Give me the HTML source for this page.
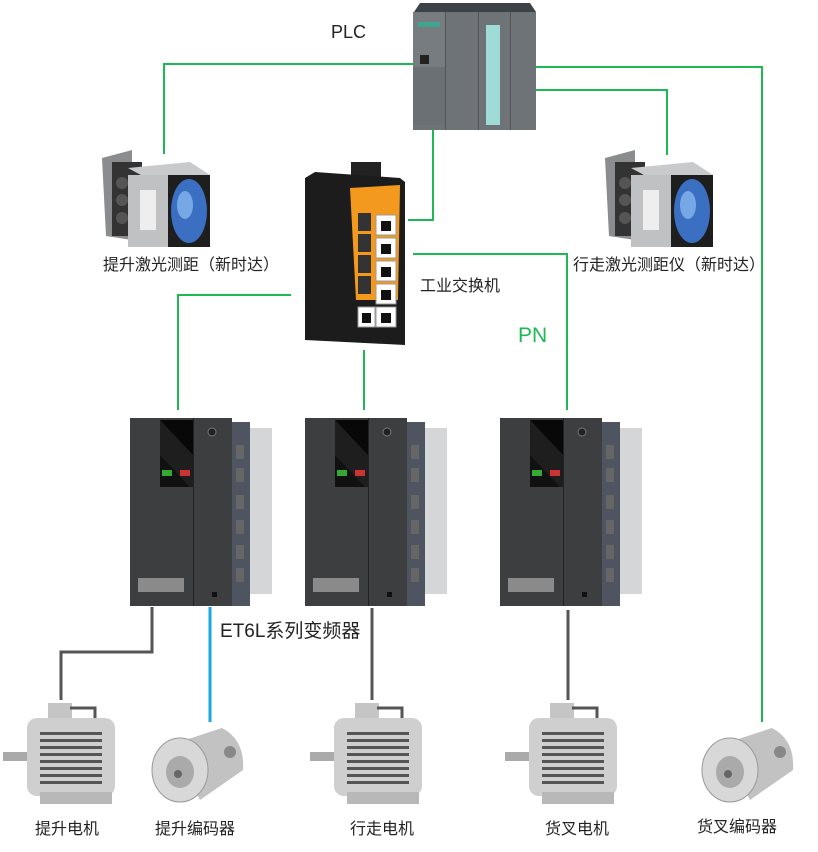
<!DOCTYPE html>
<html><head><meta charset="utf-8"><style>
html,body{margin:0;padding:0;background:#fff}
body{width:818px;height:852px;position:relative;overflow:hidden;font-family:"Liberation Sans","Noto Sans CJK SC",sans-serif;color:#222}
.a{position:absolute}
.t{position:absolute;font-size:16px;white-space:nowrap;line-height:1}
</style></head><body>
<svg class="a" style="left:0;top:0" width="818" height="852">
<g fill="none" stroke="#1db954" stroke-width="2">
<polyline points="415,64 164,64 164,154"/>
<polyline points="536,67 762,67 762,722"/>
<polyline points="536,90 667,90 667,155"/>
<polyline points="433,130 433,220 408,220"/>
<polyline points="413,254 567,254 567,410"/>
<polyline points="291,295 178,295 178,410"/>
<line x1="364" y1="350" x2="364" y2="410"/>
</g>
<g fill="none" stroke="#555" stroke-width="3">
<polyline points="152,607 152,652 61,652 61,700"/>
<line x1="372" y1="608" x2="372" y2="700"/>
<line x1="568" y1="610" x2="568" y2="700"/>
</g>
<line x1="210" y1="607" x2="210" y2="722" stroke="#1aa7e0" stroke-width="3"/>

<!-- PLC -->
<g>
<polygon points="420,3 530,3 536,12 414,12" fill="#3d4246"/>
<rect x="413" y="12" width="123" height="118" fill="#6d7377"/>
<rect x="413" y="12" width="32" height="55" fill="#767c80"/>
<rect x="413" y="67" width="32" height="58" fill="#6a7074"/>
<rect x="418" y="22" width="22" height="5" fill="#3fa58f"/>
<rect x="420" y="55" width="9" height="9" fill="#222"/>
<rect x="445" y="12" width="1" height="118" fill="#555"/>
<rect x="478" y="12" width="1" height="118" fill="#555"/>
<rect x="486" y="25" width="14" height="100" fill="#9fdcd8"/>
<rect x="510" y="12" width="1" height="118" fill="#555"/>
</g>

<!-- switch -->
<g>
<rect x="351" y="162" width="30" height="18" fill="#222"/>
<polygon points="305,178 315,172 400,178 405,182 405,345 305,340" fill="#1c1c1c"/>
<polygon points="350,188 400,185 398,300 356,300" fill="#f39a1e"/>
<g fill="#333"><rect x="358" y="213" width="13" height="18"/><rect x="358" y="234" width="13" height="18"/><rect x="358" y="255" width="13" height="18"/><rect x="358" y="276" width="13" height="18"/></g>
<g fill="#fff" stroke="#999"><rect x="376" y="215" width="20" height="20"/><rect x="376" y="238" width="20" height="20"/><rect x="376" y="261" width="20" height="20"/><rect x="376" y="284" width="20" height="20"/><rect x="376" y="307" width="20" height="20"/><rect x="358" y="307" width="17" height="20"/></g>
<g fill="#111"><rect x="381" y="221" width="10" height="10"/><rect x="381" y="244" width="10" height="10"/><rect x="381" y="267" width="10" height="10"/><rect x="381" y="290" width="10" height="10"/><rect x="381" y="313" width="10" height="10"/><rect x="362" y="313" width="9" height="10"/></g>
</g>

<!-- lasers -->
<g id="laser">
<polygon points="102,158 132,150 132,240 106,236" fill="#8a8c8e"/>
<rect x="112" y="162" width="30" height="74" fill="#333"/>
<circle cx="122" cy="183" r="6" fill="#555"/><circle cx="122" cy="200" r="6" fill="#555"/><circle cx="122" cy="218" r="6" fill="#555"/>
<polygon points="128,168 190,162 210,175 150,180" fill="#c8cacc"/>
<rect x="128" y="175" width="40" height="72" fill="#bfc1c3"/>
<rect x="140" y="190" width="16" height="40" fill="#eee"/>
<rect x="168" y="175" width="42" height="72" fill="#1e1e1e"/>
<ellipse cx="189" cy="211" rx="18" ry="32" fill="#3b6fc2"/>
<ellipse cx="185" cy="205" rx="8" ry="14" fill="#77a8e6"/>
</g>
<use href="#laser" x="503" y="0"/>

<!-- motors -->
<g id="motor">
<rect x="3" y="752" width="24" height="9" fill="#aaa"/>
<rect x="48" y="703" width="24" height="16" fill="#c5c5c5"/>
<path d="M70 708 h25 v12" stroke="#555" stroke-width="3" fill="none"/>
<rect x="27" y="718" width="88" height="78" rx="10" fill="#cfcfcf"/>
<g fill="#555"><rect x="40" y="732" width="62" height="3"/><rect x="40" y="739" width="62" height="3"/><rect x="40" y="746" width="62" height="3"/><rect x="40" y="753" width="62" height="3"/><rect x="40" y="760" width="62" height="3"/><rect x="40" y="767" width="62" height="3"/><rect x="40" y="774" width="62" height="3"/><rect x="40" y="781" width="62" height="3"/></g>
<rect x="40" y="792" width="72" height="12" fill="#b8b8b8"/>
</g>
<use href="#motor" x="307" y="0"/>
<use href="#motor" x="502" y="0"/>

<!-- encoders -->
<g id="enc">
<path d="M170 745 L222 728 Q245 740 243 770 L200 800 Z" fill="#c2c2c2"/>
<ellipse cx="180" cy="770" rx="28" ry="32" fill="#d8d8d8" stroke="#999"/>
<ellipse cx="180" cy="772" rx="14" ry="16" fill="#aaa"/>
<circle cx="178" cy="774" r="4" fill="#666"/>
<circle cx="230" cy="752" r="6" fill="#888"/>
</g>
<use href="#enc" x="550" y="0"/>

<!-- drives -->
<g id="drv">
<rect x="130" y="418" width="102" height="188" fill="#3d3e40"/>
<rect x="193" y="418" width="1" height="188" fill="#222"/>
<rect x="232" y="422" width="18" height="184" fill="#4e5560"/>
<rect x="250" y="428" width="22" height="166" fill="#d4d6d8"/>
<rect x="160" y="420" width="33" height="67" fill="#111"/>
<polygon points="160,420 160,455 190,487 193,487 193,420" fill="#1e1e1e"/>
<polygon points="160,420 193,455 193,420" fill="#080808"/>
<rect x="162" y="470" width="10" height="6" fill="#3a3"/><rect x="180" y="470" width="10" height="6" fill="#c33"/>
<circle cx="212" cy="432" r="4" fill="#222" stroke="#777"/>
<g fill="#666"><rect x="236" y="445" width="8" height="14"/><rect x="236" y="468" width="8" height="14"/><rect x="236" y="495" width="8" height="14"/><rect x="236" y="520" width="8" height="14"/><rect x="236" y="545" width="8" height="14"/><rect x="236" y="568" width="8" height="14"/></g>
<rect x="138" y="578" width="46" height="14" fill="#8a8a8a"/>
<rect x="212" y="592" width="5" height="5" fill="#111"/>
</g>
<use href="#drv" x="175" y="0"/>
<use href="#drv" x="370" y="0"/>
</svg>

<div class="t" style="left:331px;top:23px;font-size:18px">PLC</div>
<div class="t" style="left:103px;top:258px">提升激光测距（新时达）</div>
<div class="t" style="left:573px;top:258px">行走激光测距仪（新时达）</div>
<div class="t" style="left:420px;top:279px">工业交换机</div>
<div class="t" style="left:518px;top:325px;font-size:21px;color:#1db954">PN</div>
<div class="t" style="left:220px;top:622px;font-size:19px">ET6L系列变频器</div>
<div class="t" style="left:35px;top:822px">提升电机</div>
<div class="t" style="left:155px;top:822px">提升编码器</div>
<div class="t" style="left:350px;top:822px">行走电机</div>
<div class="t" style="left:545px;top:822px">货叉电机</div>
<div class="t" style="left:697px;top:820px">货叉编码器</div>
</body></html>
